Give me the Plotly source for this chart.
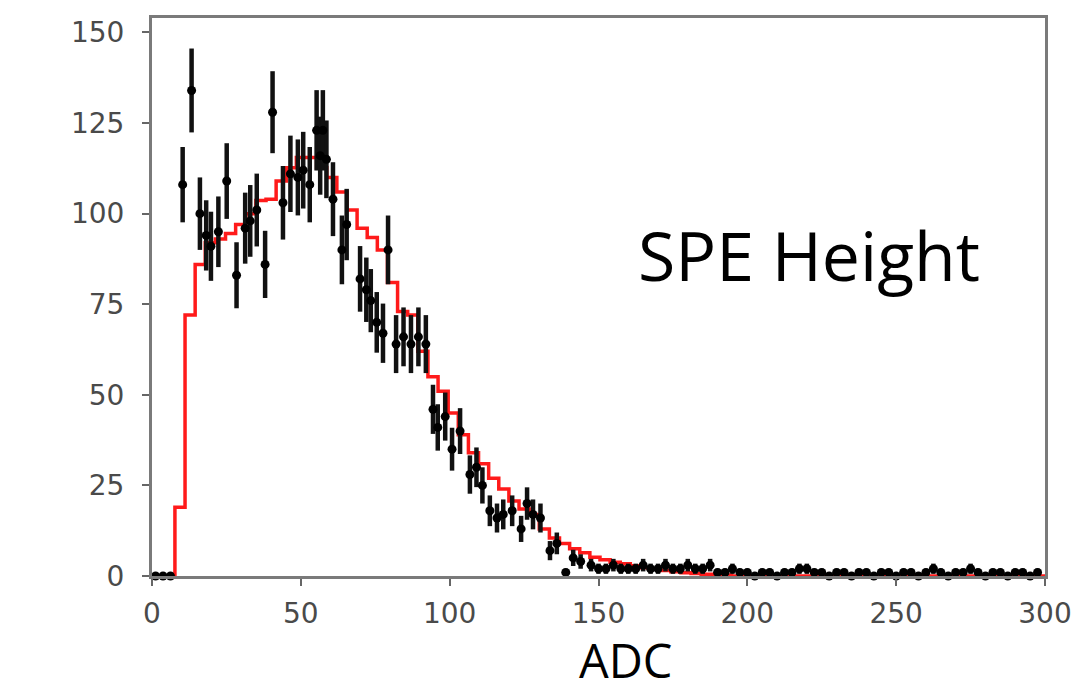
import numpy as np
import plotly.graph_objects as go

# Measured SPE pulse heights: bin position (ADC) and counts per bin
adc_points = [1.2, 3.7, 6.2, 10.3, 13.3, 16.1, 18.2, 19.8, 22.3, 25.1, 28.4, 31.3,
              33.0, 35.2, 38.0, 40.5, 44.0, 46.5, 49.0, 50.8, 53.0, 55.3, 56.5, 57.4,
              58.6, 60.8, 63.8, 65.4, 69.9, 72.0, 73.5, 75.5, 77.6, 79.3, 82.0, 84.5,
              87.0, 89.5, 92.0, 94.4, 96.0, 98.5, 100.8, 103.5, 106.8, 109.0, 111.0,
              113.5, 115.9, 118.0, 121.0, 124.0, 126.0, 128.0, 130.5, 133.7, 136.0,
              139.0, 141.5, 144.0,
              147.5, 150.0, 152.5, 155.0, 157.5, 160.0, 162.5, 165.0, 167.5, 170.0,
              172.5, 175.0, 177.5, 180.0, 182.5, 185.0, 187.5, 190.0, 192.5, 195.0,
              197.5, 200.0, 202.5, 205.0, 207.5, 210.0, 212.5, 215.0, 217.5, 220.0,
              222.5, 225.0, 227.5, 230.0, 232.5, 235.0, 237.5, 240.0, 242.5, 245.0,
              247.5, 250.0, 252.5, 255.0, 257.5, 260.0, 262.5, 265.0, 267.5, 270.0,
              272.5, 275.0, 277.5, 280.0, 282.5, 285.0, 287.5, 290.0, 292.5, 295.0,
              297.5]
counts = [0, 0, 0, 108, 134, 100, 94, 91, 95, 109, 83, 96,
          98, 101, 86, 128, 103, 111, 110, 112, 108, 123, 116, 123,
          115, 104, 90, 97, 82, 79, 76, 70, 67, 90, 64, 66,
          64, 66, 64, 46, 41, 44, 35, 40, 28, 30, 25,
          18, 16, 17, 18, 13, 20, 17, 16, 7, 9,
          1, 5, 4,
          3, 2, 2, 3, 2, 2, 2, 3, 2, 2,
          3, 2, 2, 3, 2, 2, 3, 1, 1, 2,
          1, 1, 0, 1, 1, 0, 1, 1, 2, 2,
          1, 1, 0, 1, 1, 0, 1, 1, 0, 1,
          1, 0, 1, 1, 0, 1, 2, 1, 0, 1,
          1, 2, 1, 0, 1, 1, 0, 1, 1, 0,
          1]

# Simulated SPE height spectrum (step histogram)
model_first_edge = 7.7
model_bin_width = 3.4
model_counts = [19, 72, 86, 92, 93, 94.5, 97, 100, 103.6, 104, 109, 112.7,
                115.5, 115.5, 112.7, 110, 106, 101, 96, 93.4, 90, 81, 73, 72,
                62, 55, 51, 45, 39, 34, 31, 27, 24, 20.7, 18.5, 17,
                13, 10.5, 9, 7.5, 6.4, 5.2, 4.5, 3.8, 3.4, 2.8, 2.3, 1.9,
                1.5, 1.2, 0.9, 0.7, 0.5, 0.4, 0.3]

x_ticks = [0, 50, 100, 150, 200, 250, 300]
y_ticks = [0, 25, 50, 75, 100, 125, 150]

edges = model_first_edge + model_bin_width * np.arange(len(model_counts) + 1)
step_x = [edges[0]] + list(edges[:-1]) + [edges[-1], edges[-1], 300]
step_y = [0] + list(model_counts) + [model_counts[-1], 0, 0]

errors = np.sqrt(np.array(counts, dtype=float))

fig = go.Figure()
fig.add_trace(go.Scatter(
    x=step_x, y=step_y, mode="lines", line_shape="hv",
    line=dict(color="#ff1a1a", width=3.5), showlegend=False, cliponaxis=False,
))
fig.add_trace(go.Scatter(
    x=adc_points, y=counts, mode="markers",
    marker=dict(color="black", size=9),
    error_y=dict(type="data", array=errors, visible=True, color="#111111",
                 thickness=4.5, width=0),
    showlegend=False, cliponaxis=False,
))

W, H = 1086, 692
L, R, T, B = 152, 41, 18, 116
plot_w = W - L - R
plot_h = H - T - B


def px_x(p):
    return (p - L) / plot_w


def px_y(p):
    return (H - B - p) / plot_h


fig.add_annotation(text="SPE Height", xref="paper", yref="paper",
                   x=px_x(636), y=px_y(254), xanchor="left", yanchor="middle",
                   showarrow=False,
                   font=dict(family="Open Sans", size=68, color="black"))
fig.add_annotation(text="ADC", xref="paper", yref="paper",
                   x=px_x(625), y=px_y(660), xanchor="center", yanchor="middle",
                   showarrow=False, borderpad=0,
                   font=dict(family="Open Sans", size=47, color="black"))

axis_common = dict(showline=True, linecolor="#7a7a7a", linewidth=3, mirror=True,
                   showgrid=False, zeroline=False, ticks="outside", ticklen=7,
                   tickwidth=2, tickcolor="#666666",
                   tickfont=dict(family="DejaVu Sans", size=28, color="#4a4a4a"))

fig.update_layout(
    width=W, height=H,
    margin=dict(l=L, r=R, t=T, b=B),
    paper_bgcolor="white", plot_bgcolor="white",
    xaxis=dict(range=[0, 300], tickvals=x_ticks, ticklabelstandoff=3, **axis_common),
    yaxis=dict(range=[0, 154], tickvals=y_ticks, ticklabelstandoff=12, **axis_common),
)

fig.write_html("out.html")
